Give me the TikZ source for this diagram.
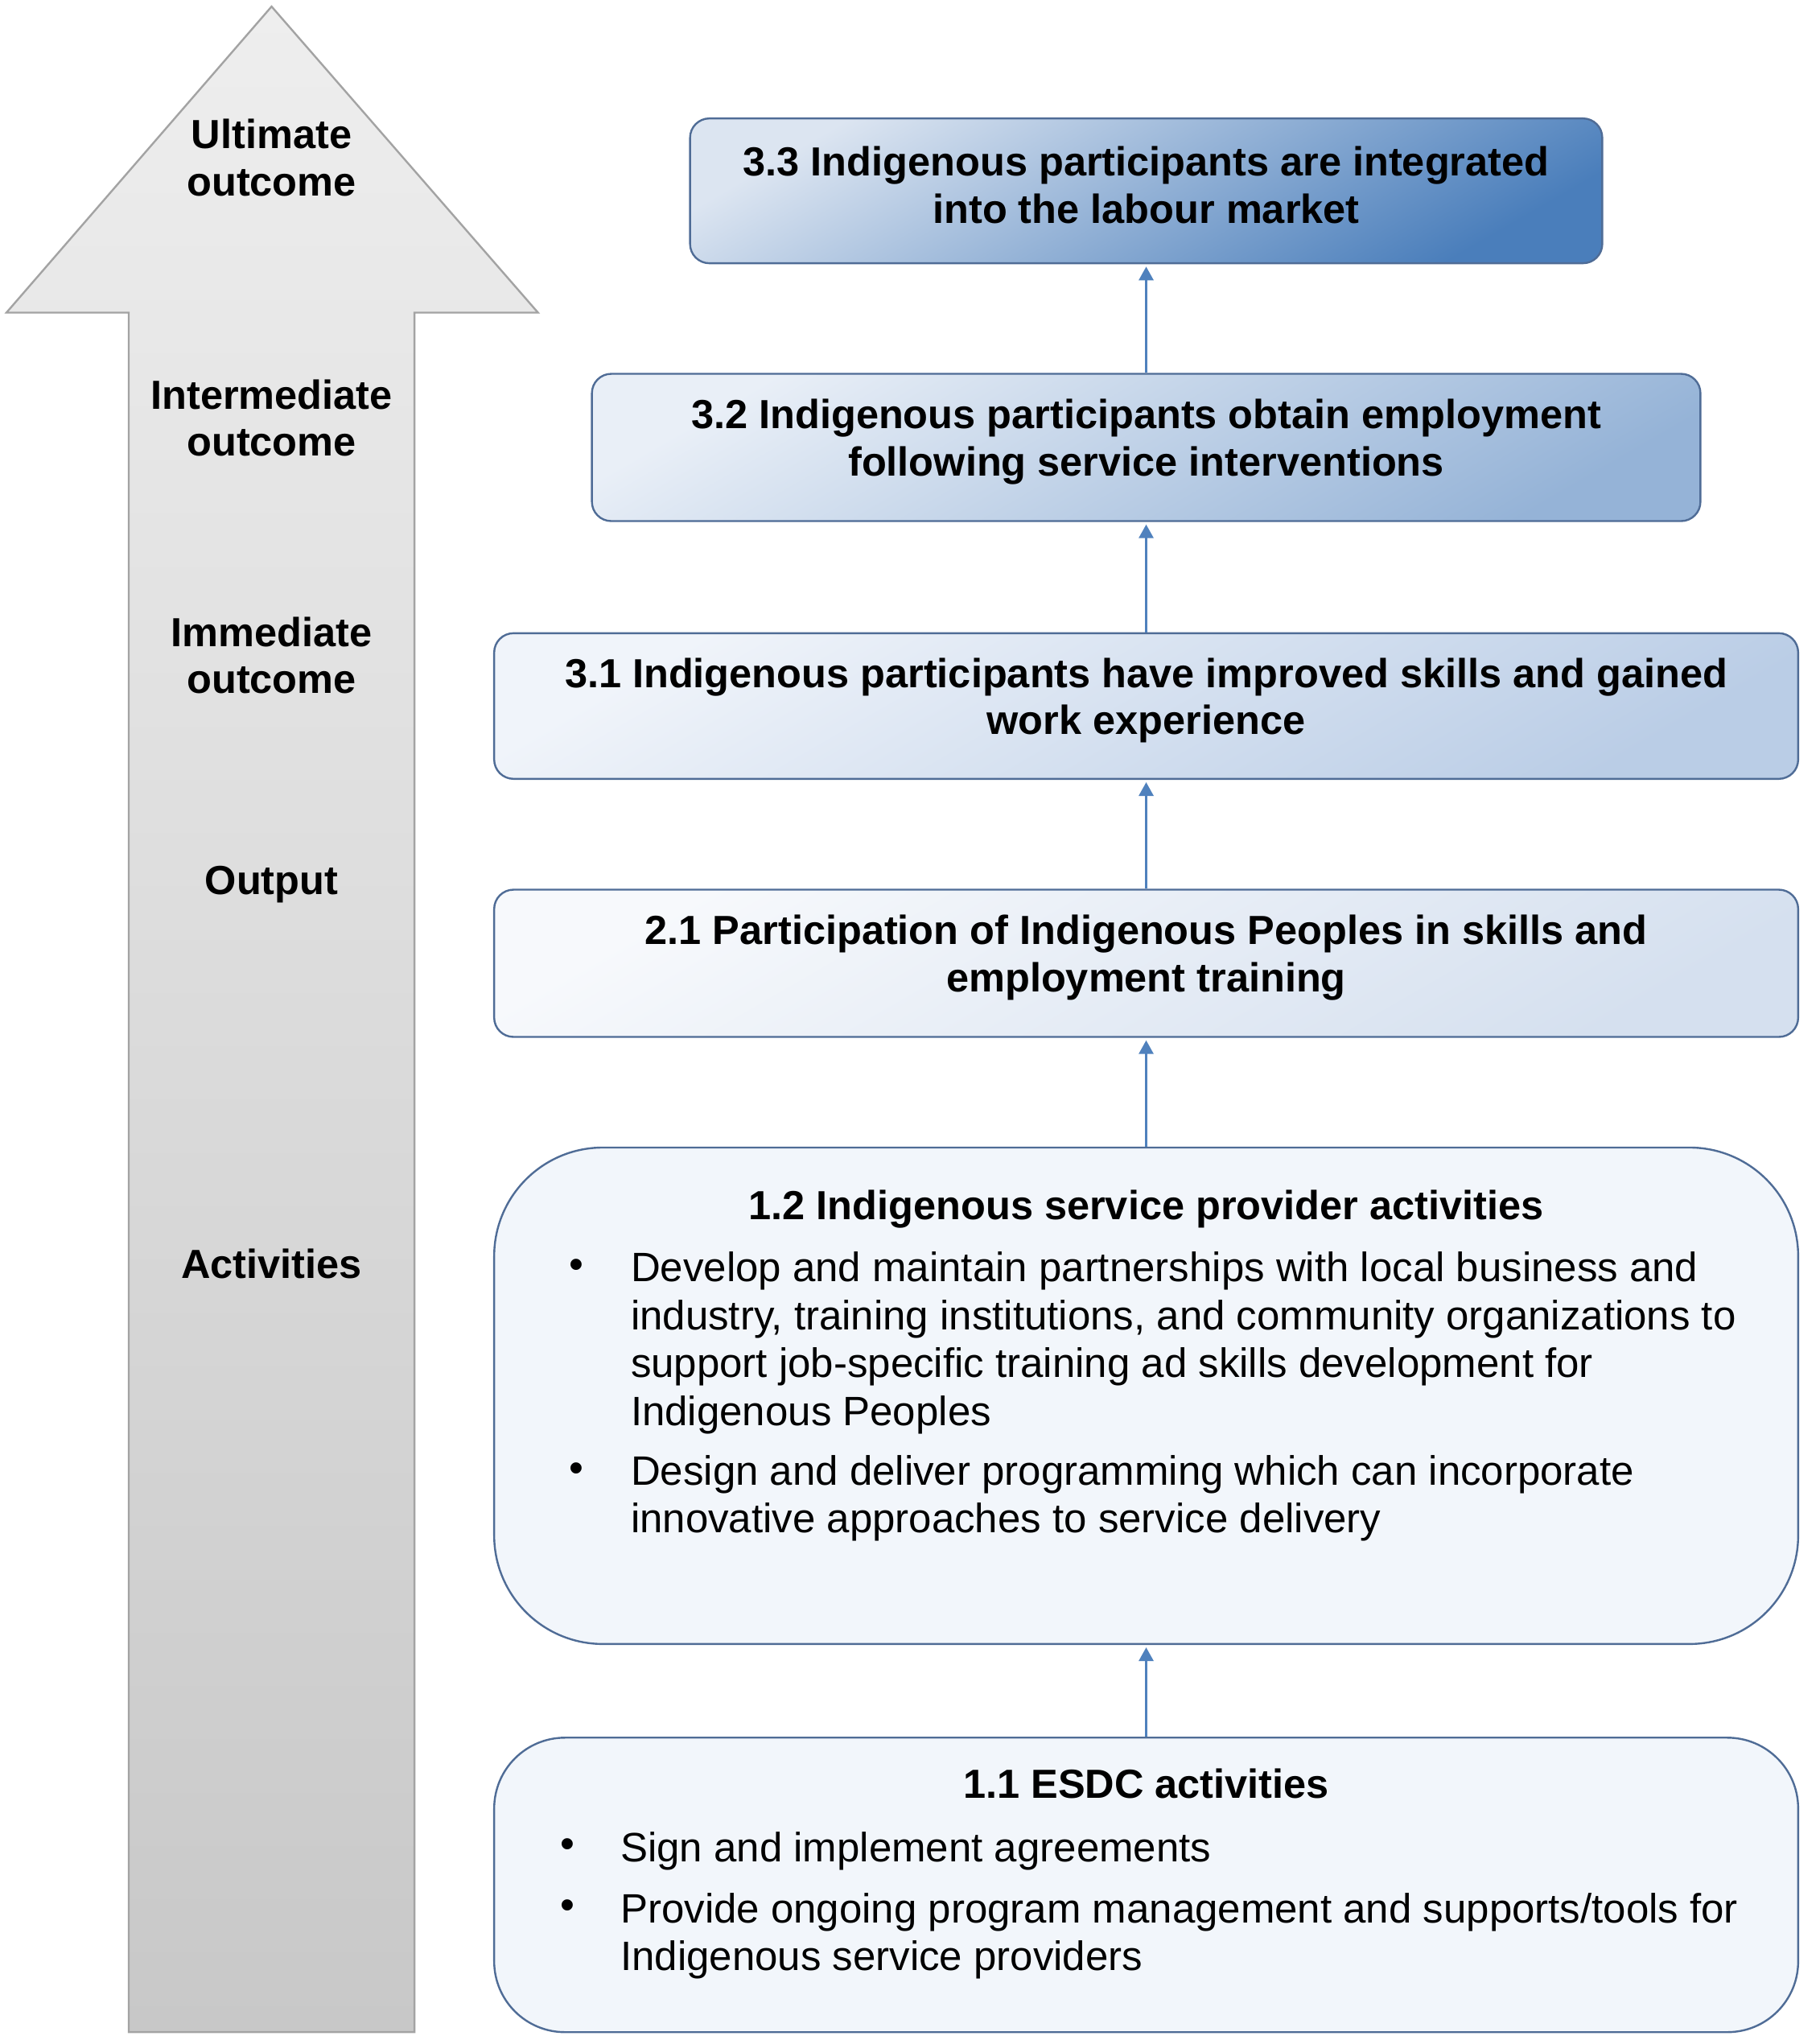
\documentclass[tikz,border=0pt]{standalone}
\usepackage{fontspec}
\setmainfont{Liberation Sans}
\usetikzlibrary{arrows.meta}
\definecolor{boxline}{HTML}{4F6C96}
\definecolor{connblue}{HTML}{4F81BD}
\definecolor{arrowline}{HTML}{A3A3A3}
\definecolor{arrowtop}{HTML}{EEEEEE}
\definecolor{arrowbot}{HTML}{C8C8C8}
\definecolor{lightfill}{HTML}{F2F6FB}
\definecolor{a33}{HTML}{DCE5F1}\definecolor{b33}{HTML}{4A7EBB}
\definecolor{a32}{HTML}{E9EFF7}\definecolor{b32}{HTML}{95B3D7}
\definecolor{a31}{HTML}{F0F4FA}\definecolor{b31}{HTML}{BACDE6}
\definecolor{a21}{HTML}{F7F9FC}\definecolor{b21}{HTML}{D5E0EF}
\begin{document}
\begin{tikzpicture}[x=1.6pt,y=-1.619pt,
  box/.style={draw=boxline, line width=2.4pt, rounded corners=24pt, inner sep=0pt},
  boxtxt/.style={align=center, inner sep=0pt, font=\bfseries\fontsize{50.5}{58.5}\selectfont},
  actbox/.style={draw=boxline, line width=2.4pt, fill=lightfill, inner sep=0pt,
    minimum width=1621pt},
  lvl/.style={align=center, inner sep=0pt, font=\bfseries\fontsize{50.5}{58.5}\selectfont},
  ttl/.style={inner sep=0pt, font=\bfseries\fontsize{50.5}{58.5}\selectfont},
  itm/.style={inner sep=0pt, anchor=north west, align=left, font=\fontsize{51}{59.5}\selectfont},
  bul/.style={inner sep=0pt, font=\fontsize{51}{59.5}\selectfont},
  conn/.style={draw=connblue, line width=3pt, -{Triangle[width=18pt,length=17pt]}, shorten >=3pt}]
\useasboundingbox (0,0) rectangle (1414,1563);
% big arrow
\path[draw=arrowline, line width=2.4pt, top color=arrowtop, bottom color=arrowbot]
  (211,5) -- (418,240) -- (322,240) -- (322,1560) -- (100,1560) -- (100,240) -- (5,240) -- cycle;
\node[lvl] (lu) at (211,121) {Ultimate\\outcome};
\node[lvl] (li) at (211,321) {Intermediate\\outcome};
\node[lvl] (lm) at (211,503) {Immediate\\outcome};
\node[lvl] (lo) at (211,679) {Output};
\node[lvl] (la) at (211,970) {Activities};
% outcome boxes
\node[box, minimum width=1134pt, minimum height=180pt, top color=a33, bottom color=b33, shading angle=30]
  (b33) at (890.5,146.5) {};
\node[boxtxt] (x33) at ([yshift=7pt]b33.center) {3.3 Indigenous participants are integrated\\into the labour market};
\node[box, minimum width=1378pt, minimum height=183pt, top color=a32, bottom color=b32, shading angle=30]
  (b32) at (890.5,343.5) {};
\node[boxtxt] (x32) at ([yshift=7pt]b32.center) {3.2 Indigenous participants obtain employment\\following service interventions};
\node[box, minimum width=1621pt, minimum height=181pt, top color=a31, bottom color=b31, shading angle=30]
  (b31) at (890.5,542) {};
\node[boxtxt] (x31) at ([yshift=7pt]b31.center) {3.1 Indigenous participants have improved skills and gained\\work experience};
\node[box, minimum width=1621pt, minimum height=183pt, top color=a21, bottom color=b21, shading angle=30]
  (b21) at (890.5,739.5) {};
\node[boxtxt] (x21) at ([yshift=7pt]b21.center) {2.1 Participation of Indigenous Peoples in skills and\\employment training};
% activity boxes
\node[actbox, rounded corners=135pt, minimum height=617pt] (b12) at (890.5,1071.5) {};
\node[ttl] (t12) at (890.5,928) {1.2 Indigenous service provider activities};
\node[bul] (u121) at (448,974) {•};
\node[itm] (i121) at (490,961) {Develop and maintain partnerships with local business and\\industry, training institutions, and community organizations to\\support job-specific training ad skills development for\\Indigenous Peoples};
\node[bul] (u122) at (448,1130) {•};
\node[itm] (i122) at (490,1117) {Design and deliver programming which can incorporate\\innovative approaches to service delivery};
\node[actbox, rounded corners=88pt, minimum height=366pt] (b11) at (890.5,1447) {};
\node[ttl] (t11) at (890.5,1369) {1.1 ESDC activities};
\node[bul] (u111) at (441,1419) {•};
\node[itm] (i111) at (482,1406) {Sign and implement agreements};
\node[bul] (u112) at (441,1466) {•};
\node[itm] (i112) at (482,1453) {Provide ongoing program management and supports/tools for\\Indigenous service providers};
% connectors
\draw[conn] (b32.north) -- (b33.south);
\draw[conn] (b31.north) -- (b32.south);
\draw[conn] (b21.north) -- (b31.south);
\draw[conn] (b12.north) -- (b21.south);
\draw[conn] (b11.north) -- (b12.south);
\end{tikzpicture}
\end{document}
